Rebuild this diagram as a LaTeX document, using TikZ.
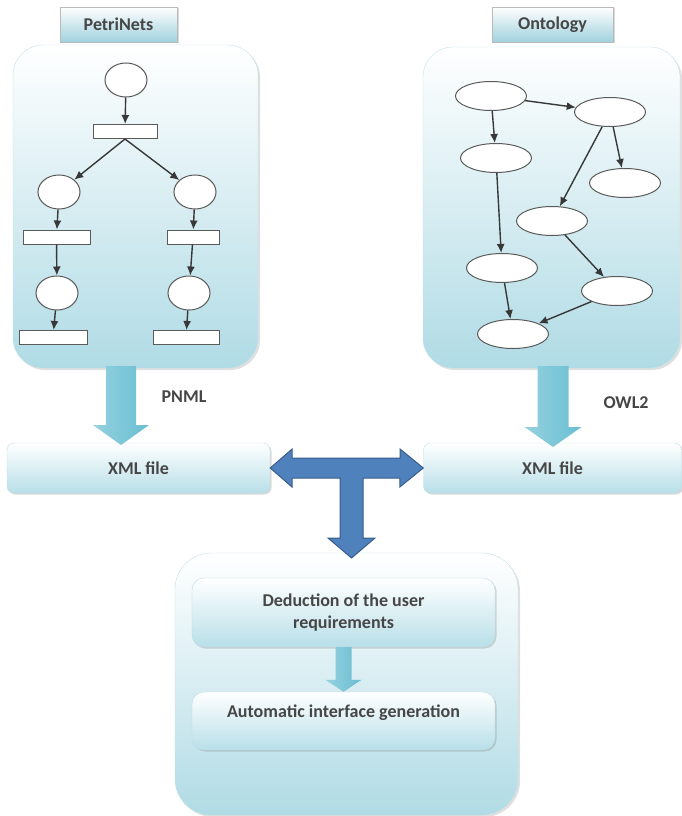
\documentclass[tikz,border=0pt]{standalone}
\usepackage{fontspec}
\setmainfont{Carlito}
\usepackage{xcolor}
\usepackage{tikz}
\usetikzlibrary{shapes,arrows,positioning,calc,arrows.meta,shadows}

\definecolor{panelblue}{RGB}{176,219,229}
\definecolor{tabblue}{RGB}{160,209,222}
\definecolor{boxblue}{RGB}{184,223,232}
\definecolor{edgeblue}{RGB}{160,205,218}
\definecolor{tealA}{RGB}{104,190,210}
\definecolor{tealB}{RGB}{44,142,170}
\definecolor{tblue}{RGB}{79,129,189}
\definecolor{tblueline}{RGB}{56,93,138}
\definecolor{txtgray}{RGB}{70,70,70}
\definecolor{netgray}{RGB}{90,90,90}

\tikzset{
  panel/.style={rounded corners=30pt, draw=edgeblue!60!white, top color=white, bottom color=panelblue,
    drop shadow={shadow xshift=2pt, shadow yshift=-2pt, opacity=.25}},
  tab/.style={draw=gray!55, top color=white, bottom color=tabblue, minimum height=35, inner sep=0pt,
    drop shadow={shadow xshift=1.5pt, shadow yshift=-1.5pt, opacity=.3}},
  xmlbox/.style={rounded corners=7pt, draw=edgeblue!70!white, top color=white, bottom color=boxblue,
    minimum height=50, inner sep=0pt, drop shadow={shadow xshift=1.5pt, shadow yshift=-1.5pt, opacity=.3}},
  subbox/.style={xmlbox, rounded corners=12pt, minimum width=303, align=center},
  note/.style={fill=white, inner sep=5pt},
  place/.style={ellipse, draw=netgray, fill=white, line width=1pt, minimum width=42, minimum height=34, inner sep=0pt},
  trans/.style={rectangle, draw=netgray, fill=white, line width=1pt, minimum height=14, inner sep=0pt},
  cls/.style={ellipse, draw=netgray, fill=white, line width=1pt, minimum width=71, minimum height=29, inner sep=0pt},
  flow/.style={-{Latex[length=9pt, width=8pt]}, line width=1.4pt, draw=black!78},
  tealarrow/.style={left color=tealA!70!white, middle color=tealB, right color=tealA},
  tarrow/.style={fill=tblue, draw=tblueline, line width=1pt, line join=miter}
}

% wide downward arrow: from, to, half shaft, half head, head length
\newcommand{\tealdown}[5]{%
  \path[tealarrow] ($(#1)+(-#3,0)$) -- ($(#2)+(-#3,-#5)$) -- ($(#2)+(-#4,-#5)$) -- (#2)
    -- ($(#2)+(#4,-#5)$) -- ($(#2)+(#3,-#5)$) -- ($(#1)+(#3,0)$) -- cycle;}

\begin{document}
\begin{tikzpicture}[x=1pt, y=-1pt, font=\fontsize{18}{22}\selectfont\bfseries, text=txtgray]
    \useasboundingbox (0,0) rectangle (682,816);

    % the two source models
    \node[panel, minimum width=245, minimum height=323] (pnpanel) at (135.5,206.5) {};
    \node[panel, minimum width=257, minimum height=321] (owlpanel) at (551.5,207.5) {};
    \node[tab, minimum width=117] (pntab) at (118.5,24.5) {PetriNets};
    \node[tab, minimum width=121] (owltab) at (552.5,24.5) {Ontology};

    % petri net
    \node[place] (p0) at (126,80) {};
    \node[trans, minimum width=64] (t0) at (125,131.5) {};
    \node[place] (p1) at (59,192) {};
    \node[place] (p2) at (195,192) {};
    \node[trans, minimum width=67] (t1) at (56.5,237) {};
    \node[trans, minimum width=52] (t2) at (193,237) {};
    \node[place] (p3) at (57,293) {};
    \node[place] (p4) at (189,293) {};
    \node[trans, minimum width=68] (t3) at (53,337.5) {};
    \node[trans, minimum width=66] (t4) at (186,337.5) {};

    \draw[flow] (p0) -- (t0);
    \draw[flow] (t0.south) -- (p1);
    \draw[flow] (t0.south) -- (p2);
    \draw[flow] (p1) -- (t1);
    \draw[flow] (p2) -- (t2);
    \draw[flow] (t1) -- (p3);
    \draw[flow] (t2) -- (p4);
    \draw[flow] (p3) -- (t3);
    \draw[flow] (p4) -- (t4);

    % ontology graph
    \node[cls] (c1) at (491,96) {};
    \node[cls] (c2) at (610,112) {};
    \node[cls] (c3) at (496,158) {};
    \node[cls] (c4) at (625,183) {};
    \node[cls] (c5) at (552,221) {};
    \node[cls] (c6) at (502,268) {};
    \node[cls] (c7) at (617,291) {};
    \node[cls] (c8) at (513,334) {};

    \draw[flow] (c1) -- (c2);
    \draw[flow] (c1) -- (c3);
    \draw[flow] (c2) -- (c5);
    \draw[flow] (c2) -- (c4);
    \draw[flow] (c3) -- (c6);
    \draw[flow] (c5) -- (c7);
    \draw[flow] (c6) -- (c8);
    \draw[flow] (c7) -- (c8);

    % export to xml
    \node[xmlbox, minimum width=263] (pnxml) at (138.5,468) {XML file};
    \node[xmlbox, minimum width=258] (owlxml) at (552.5,468) {XML file};
    \coordinate (pnmlfrom) at (121,366);
    \coordinate (pnmlto) at (121,445);
    \coordinate (owlfrom) at (553,366);
    \coordinate (owlto) at (553,447);
    \tealdown{pnmlfrom}{pnmlto}{15}{28}{20}
    \tealdown{owlfrom}{owlto}{15.5}{28.5}{20}
    \node[note] (pnml) at (184,397) {PNML};
    \node[note] (owl2) at (626,403) {OWL2};

    % interface part
    \node[panel, rounded corners=36pt, minimum width=343, minimum height=262] (infpanel) at (346.5,684) {};
    \node[subbox, minimum height=69] (deduct) at (343.5,612.5) {Deduction of the user\\requirements};
    \node[subbox, minimum height=58, text height=11pt, text depth=19pt] (autogen) at (343.5,721) {Automatic interface generation};
    \tealdown{deduct.south}{autogen.north}{8}{18}{12}

    % merge arrow
    \draw[tarrow] (pnxml.east) -- ++(22,-19) -- ++(0,9) -- (400,458) -- (400,449) -- (owlxml.west)
        -- ++(-23.5,19) -- ++(0,-9) -- (363,478) -- (363,538) -- (375,538) -- (351.5,558)
        -- (328,538) -- (340,538) -- (340,478) -- (292,478) -- (292,487) -- cycle;
\end{tikzpicture}
\end{document}
